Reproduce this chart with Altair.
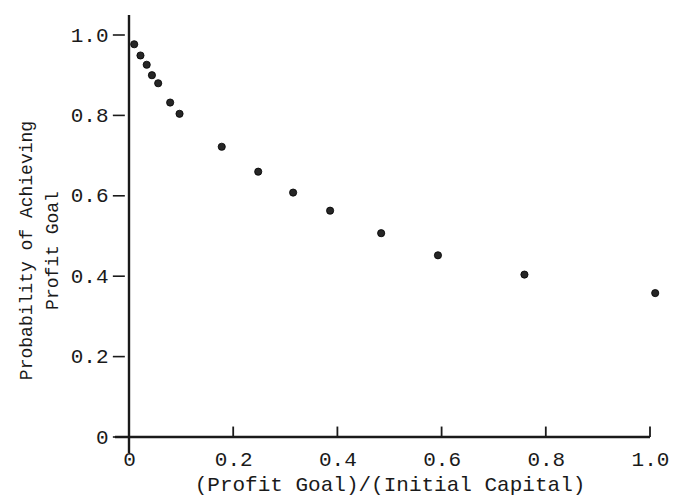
import altair as alt
import pandas as pd

# Data
ratio = [0.010, 0.022, 0.034, 0.044, 0.056, 0.079, 0.097, 0.178, 0.248,
         0.315, 0.386, 0.484, 0.593, 0.759, 1.010]
prob = [0.977, 0.949, 0.926, 0.900, 0.880, 0.832, 0.804, 0.722, 0.660,
        0.608, 0.563, 0.507, 0.452, 0.404, 0.358]
x_ticks = [0, 0.2, 0.4, 0.6, 0.8, 1.0]
y_ticks = [0, 0.2, 0.4, 0.6, 0.8, 1.0]
x_inner_ticks = [0.2, 0.4, 0.6, 0.8, 1.0]
x_axis_extent = [-0.027, 1.0]
y_axis_extent = [-0.04, 1.05]
y_dash_extent = [-0.031, -0.008]   # typed "-" marks left of the y axis
x_tick_height = 0.026

FONT = "Liberation Mono"
INK = "#1a1a1a"

xs = alt.Scale(domain=[0, 1], nice=False, zero=False)
ys = alt.Scale(domain=[0, 1], nice=False, zero=False)

LBL = "datum.value == 0 ? '0' : format(datum.value, '.1f')"
xaxis = alt.Axis(values=x_ticks, domain=False, ticks=False, grid=False,
                 labelExpr=LBL,
                 labelFont=FONT, labelFontSize=21, labelColor=INK,
                 labelPadding=11, labelFlush=False,
                 title="(Profit Goal)/(Initial Capital)",
                 titleFont=FONT, titleFontSize=21, titleFontWeight="normal",
                 titleColor=INK, titleY=36, titleBaseline="top")
yaxis = alt.Axis(values=y_ticks, domain=False, ticks=False, grid=False,
                 labelExpr=LBL,
                 labelFont=FONT, labelFontSize=21, labelColor=INK,
                 labelPadding=21, labelFlush=False,
                 title=["Probability of Achieving", "Profit Goal"],
                 titleFont=FONT, titleFontSize=18, titleFontWeight="normal",
                 titleColor=INK, titleX=-103, titleY=215,
                 titleAngle=270, titleAlign="center",
                 titleBaseline="middle", titleLineHeight=26)

pts = pd.DataFrame({"x": ratio, "y": prob})

points = alt.Chart(pts).mark_circle(size=52, color="#262626", opacity=1,
                                    stroke="#000", strokeWidth=0.8).encode(
    x=alt.X("x:Q", scale=xs, axis=xaxis),
    y=alt.Y("y:Q", scale=ys, axis=yaxis),
)

yline = alt.Chart(pd.DataFrame({"x": [0], "y": [y_axis_extent[0]],
                                "y2": [y_axis_extent[1]]})).mark_rule(
    color=INK, strokeWidth=2.4).encode(
    x=alt.X("x:Q", scale=xs, axis=xaxis),
    y=alt.Y("y:Q", scale=ys, axis=yaxis),
    y2="y2:Q",
)

xline = alt.Chart(pd.DataFrame({"x": [x_axis_extent[0]], "x2": [x_axis_extent[1]],
                                "y": [0]})).mark_rule(
    color=INK, strokeWidth=2.4).encode(
    x=alt.X("x:Q", scale=xs, axis=xaxis),
    x2="x2:Q",
    y=alt.Y("y:Q", scale=ys, axis=yaxis),
)

xt = alt.Chart(pd.DataFrame({"x": x_inner_ticks, "y": [0] * len(x_inner_ticks),
                             "y2": [x_tick_height] * len(x_inner_ticks)})).mark_rule(
    color=INK, strokeWidth=1.8).encode(
    x=alt.X("x:Q", scale=xs, axis=xaxis),
    y=alt.Y("y:Q", scale=ys, axis=yaxis),
    y2="y2:Q",
)

yt = alt.Chart(pd.DataFrame({"x": [y_dash_extent[0]] * len(y_ticks),
                             "x2": [y_dash_extent[1]] * len(y_ticks),
                             "y": y_ticks})).mark_rule(
    color=INK, strokeWidth=1.6).encode(
    x=alt.X("x:Q", scale=xs, axis=xaxis),
    x2="x2:Q",
    y=alt.Y("y:Q", scale=ys, axis=yaxis),
)

chart = alt.layer(points, yline, xline, xt, yt).properties(
    width=521, height=402,
    autosize=alt.AutoSizeParams(type="none"),
    padding={"left": 121, "top": 27, "right": 20, "bottom": 59},
    background="white",
).configure_view(stroke=None)

chart.save("out.html", embed_options={"renderer": "svg", "actions": False})
